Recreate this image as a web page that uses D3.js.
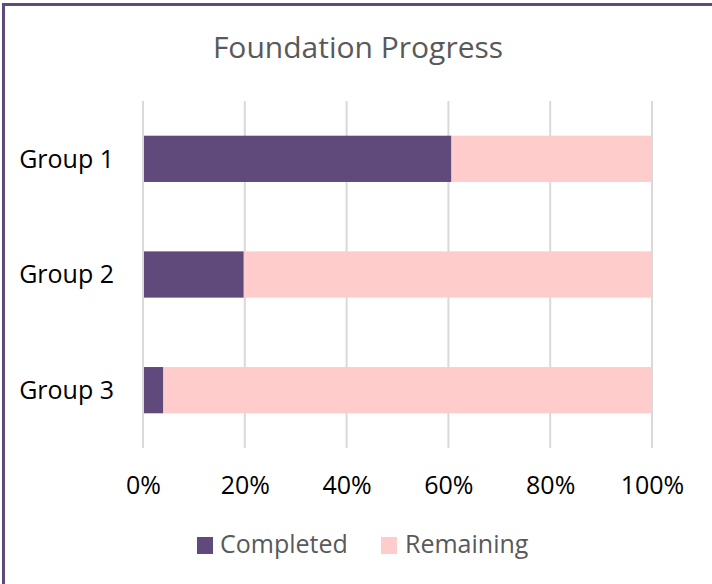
<!DOCTYPE html>
<html>
<head>
<meta charset="utf-8">
<script src="https://cdn.jsdelivr.net/npm/d3@7"></script>
<style>
  html, body { margin: 0; padding: 0; background: #fff; }
  svg { display: block; font-family: "Open Sans", sans-serif; }
</style>
</head>
<body>
<svg id="chart" width="712" height="584"></svg>
<script>
const title = "Foundation Progress";
const categories = ["Group 1", "Group 2", "Group 3"];
const completed = [0.606, 0.198, 0.04];
const remaining = [0.394, 0.802, 0.96];
const seriesNames = ["Completed", "Remaining"];
const seriesColors = ["#604a7b", "#ffcccc"];
const tickValues = [0, 0.2, 0.4, 0.6, 0.8, 1.0];

const svg = d3.select("#chart");

// outer chart border (cropped at right/bottom)
svg.append("rect")
  .attr("x", 3.5).attr("y", 4.5)
  .attr("width", 900).attr("height", 900)
  .attr("fill", "none")
  .attr("stroke", "#604a7b")
  .attr("stroke-width", 3);

const plotTop = 101, plotBottom = 448;
const x = d3.scaleLinear().domain([0, 1]).range([143, 652]);
const y = d3.scaleBand().domain(categories).range([plotTop, plotBottom])
  .paddingInner(0.6).paddingOuter(0.3);

// title
svg.append("text")
  .attr("x", 358).attr("y", 58)
  .attr("text-anchor", "middle")
  .attr("font-size", 30)
  .attr("fill", "#595959")
  .text(title);

// gridlines
svg.append("g").selectAll("line").data(tickValues).join("line")
  .attr("x1", d => x(d)).attr("x2", d => x(d))
  .attr("y1", plotTop).attr("y2", plotBottom)
  .attr("stroke", "#d9d9d9").attr("stroke-width", 2);

// stacked bars
const rows = categories.map((c, i) => ({ cat: c, Completed: completed[i], Remaining: remaining[i] }));
const stack = d3.stack().keys(seriesNames)(rows);
const color = d3.scaleOrdinal().domain(seriesNames).range(seriesColors);

svg.append("g").selectAll("g").data(stack).join("g")
  .attr("fill", d => color(d.key))
  .selectAll("rect").data(d => d).join("rect")
  .attr("x", d => x(d[0]) + (d[0] === 0 ? 1 : 0))
  .attr("y", d => y(d.data.cat))
  .attr("width", d => x(d[1]) - x(d[0]) - (d[0] === 0 ? 1 : 0))
  .attr("height", y.bandwidth());

// category axis labels
const yAxis = d3.axisLeft(y).tickSize(0).tickPadding(0);
const gy = svg.append("g").attr("transform", "translate(114,0)").call(yAxis);
gy.select(".domain").remove();
gy.selectAll("text")
  .attr("font-family", "Open Sans, sans-serif")
  .attr("font-size", 25)
  .attr("fill", "#000")
  .attr("dy", "0.35em");

// value axis labels
const xAxis = d3.axisBottom(x).tickValues(tickValues).tickFormat(d3.format(".0%")).tickSize(0).tickPadding(0);
const gx = svg.append("g").attr("transform", "translate(0,494)").call(xAxis);
gx.select(".domain").remove();
gx.selectAll("text")
  .attr("font-family", "Open Sans, sans-serif")
  .attr("font-size", 25)
  .attr("fill", "#000")
  .attr("dy", 0)
  .attr("y", 0);

// legend
const legendItems = [
  { name: seriesNames[0], sx: 197, tx: 220 },
  { name: seriesNames[1], sx: 381, tx: 405 }
];
const lg = svg.append("g");
lg.selectAll("rect").data(legendItems).join("rect")
  .attr("x", d => d.sx).attr("y", 537)
  .attr("width", 16).attr("height", 17)
  .attr("fill", d => color(d.name));
lg.selectAll("text").data(legendItems).join("text")
  .attr("x", d => d.tx).attr("y", 553)
  .attr("font-size", 25)
  .attr("fill", "#595959")
  .text(d => d.name);
</script>
</body>
</html>
